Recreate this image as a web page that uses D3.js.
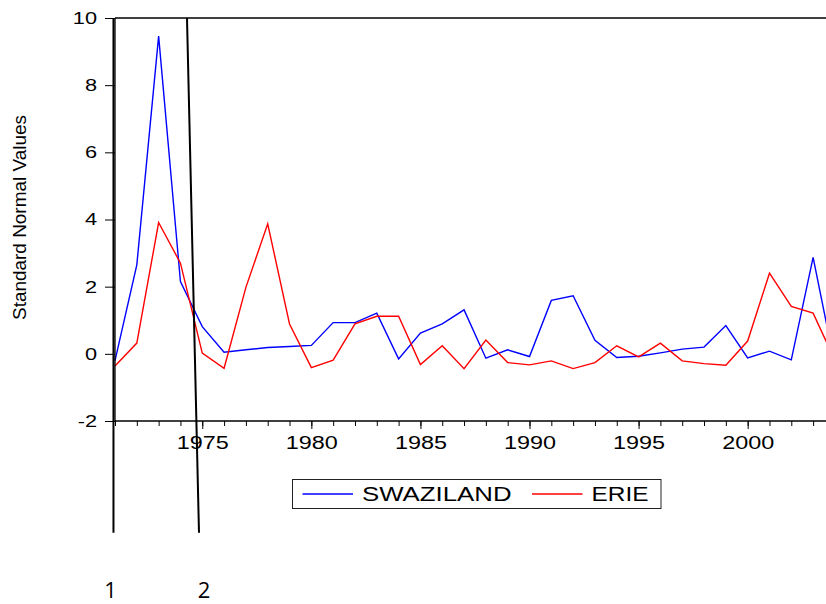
<!DOCTYPE html>
<html>
<head>
<meta charset="utf-8">
<script src="https://cdn.jsdelivr.net/npm/d3@7"></script>
<style>
  body { margin: 0; background: #fff; }
  svg { display: block; font-family: "Liberation Sans", Arial, sans-serif; }
</style>
</head>
<body>
<svg id="chart"></svg>
<script>
// data
const years = [1971, 1972, 1973, 1974, 1975, 1976, 1977, 1978, 1979, 1980,
               1981, 1982, 1983, 1984, 1985, 1986, 1987, 1988, 1989, 1990,
               1991, 1992, 1993, 1994, 1995, 1996, 1997, 1998, 1999, 2000,
               2001, 2002, 2003, 2004]
const swaziland = [-0.2, 2.65, 9.46, 2.15, 0.81, 0.05, 0.12, 0.19, 0.22, 0.25,
                   0.93, 0.93, 1.21, -0.15, 0.62, 0.89, 1.31, -0.13, 0.12, -0.08,
                   1.59, 1.73, 0.40, -0.11, -0.07, 0.03, 0.14, 0.20, 0.84, -0.12,
                   0.08, -0.18, 2.87, -0.35]
const erie = [-0.36, 0.32, 3.91, 2.70, 0.02, -0.43, 1.98, 3.87, 0.89, -0.41,
              -0.19, 0.89, 1.12, 1.12, -0.32, 0.24, -0.44, 0.41, -0.26, -0.33,
              -0.21, -0.44, -0.26, 0.24, -0.09, 0.32, -0.21, -0.29, -0.34, 0.38,
              2.40, 1.41, 1.21, -0.19]
const yTicks = [-2, 0, 2, 4, 6, 8, 10]
const xLabelYears = [1975, 1980, 1985, 1990, 1995, 2000]
const seriesNames = ["SWAZILAND", "ERIE"]
// hand drawn marker lines (year at top, year at bottom, value at bottom)
const markers = [
    {label: "1", top: 1970.93, bottom: 1970.93, low: -5.33},
    {label: "2", top: 1974.30, bottom: 1974.85, low: -5.33},
]

const width = 826
const height = 604
const colors = ["#0000ff", "#ff0000"]
const markerLabelDx = [-3, 5]

const $svg = d3.select("#chart")
    .attr("width", width)
    .attr("height", height)

// plot runs off the right edge of the picture
const xScale = d3.scaleLinear()
    .domain([1971, 2006])
    .range([115, 115 + 35 * 21.816])

const yScale = d3.scaleLinear()
    .domain([-2, 10])
    .range([421, 18])

//stretch text sideways like the original export
function stretch(sel, ratio) {
    sel.each(function() {
        const len = this.getComputedTextLength()
        d3.select(this)
            .attr("textLength", len * ratio)
            .attr("lengthAdjust", "spacingAndGlyphs")
    })
}

// series lines
const line = d3.line()
    .x((d, i) => xScale(years[i]))
    .y(d => yScale(d))

$svg.selectAll(".series")
    .data([swaziland, erie])
    .enter().append("path")
    .attr("class", "series")
    .attr("d", d => line(d))
    .attr("fill", "none")
    .attr("stroke", (d, i) => colors[i])
    .attr("stroke-width", 1.4)
    .attr("stroke-linejoin", "miter")

// top frame
$svg.append("line")
    .attr("x1", xScale(1971)).attr("x2", width)
    .attr("y1", yScale(10)).attr("y2", yScale(10))
    .attr("stroke", "#000")
    .attr("stroke-width", 1.3)

// bottom axis: minor ticks every year, longer ticks every 5
const minorAxis = d3.axisBottom(xScale)
    .tickValues(years.concat([2005]))
    .tickSize(5)
    .tickFormat("")

$svg.append("g")
    .attr("transform", `translate(0, ${yScale(-2)})`)
    .call(minorAxis)
    .call(g => g.select(".domain").attr("d", `M${xScale(1971)},0H${width}`).attr("stroke-width", 1.3))

const majorAxis = d3.axisBottom(xScale)
    .tickValues(xLabelYears)
    .tickSize(8)
    .tickFormat(d => String(d))

$svg.append("g")
    .attr("transform", `translate(0, ${yScale(-2)})`)
    .call(majorAxis)
    .call(g => g.select(".domain").remove())
    .call(g => g.selectAll("text")
        .attr("y", 15)
        .attr("font-size", 18)
        .attr("font-family", "Liberation Sans, Arial, sans-serif")
        .attr("fill", "#000")
        .call(stretch, 1.3))

// left axis
const yAxis = d3.axisLeft(yScale)
    .tickValues(yTicks)
    .tickSize(10)
    .tickFormat(d => String(d))

$svg.append("g")
    .attr("transform", `translate(${xScale(1971)}, 0)`)
    .call(yAxis)
    .call(g => g.select(".domain").attr("d", `M0,${yScale(10)}V${yScale(-2)}`).attr("stroke-width", 1.3))
    .call(g => g.selectAll("text")
        .attr("x", -18)
        .attr("font-size", 17)
        .attr("font-family", "Liberation Sans, Arial, sans-serif")
        .attr("fill", "#000")
        .call(stretch, 1.28))

$svg.append("text")
    .attr("transform", `translate(26, 217.5) rotate(-90)`)
    .attr("text-anchor", "middle")
    .attr("font-size", 19)
    .attr("textLength", 205)
    .attr("lengthAdjust", "spacingAndGlyphs")
    .text("Standard Normal Values")

// legend
const $legend = $svg.append("g")
    .attr("transform", "translate(292.5, 479.5)")

$legend.append("rect")
    .attr("width", 368.5)
    .attr("height", 29)
    .attr("fill", "#fff")
    .attr("stroke", "#222")
    .attr("stroke-width", 1)

const legendX = [10, 239.5]
seriesNames.forEach((name, i) => {
    $legend.append("line")
        .attr("x1", legendX[i]).attr("x2", legendX[i] + 50.5)
        .attr("y1", 14.5).attr("y2", 14.5)
        .attr("stroke", colors[i])
        .attr("stroke-width", 1.3)
    $legend.append("text")
        .attr("x", legendX[i] + 59.5)
        .attr("y", 21.5)
        .attr("font-size", 20)
        .text(name)
        .call(stretch, i == 0 ? 1.29 : 1.22)
})

// marker lines drawn over the chart
$svg.selectAll(".marker")
    .data(markers)
    .enter().append("line")
    .attr("class", "marker")
    .attr("x1", d => xScale(d.top))
    .attr("y1", yScale(10))
    .attr("x2", d => xScale(d.bottom))
    .attr("y2", d => yScale(d.low))
    .attr("stroke", "#000")
    .attr("stroke-width", 2)

$svg.selectAll(".markerLabel")
    .data(markers)
    .enter().append("text")
    .attr("class", "markerLabel")
    .attr("x", (d, i) => xScale(d.bottom) + markerLabelDx[i])
    .attr("y", 598)
    .attr("text-anchor", "middle")
    .attr("font-family", "Open Sans, Noto Sans, sans-serif")
    .attr("font-size", 22)
    .text(d => d.label)
</script>
</body>
</html>
